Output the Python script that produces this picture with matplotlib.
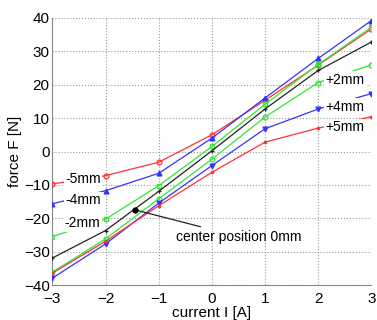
import matplotlib
matplotlib.use("Agg")
import matplotlib.pyplot as plt

plt.rcParams['font.family'] = ['Liberation Sans', 'DejaVu Sans']

current = [-3, -2, -1, 0, 1, 2, 3]
f_m5 = [-9.7, -7.2, -3.2, 5.0, 15.3, 25.8, 36.6]
f_m4 = [-15.6, -11.7, -6.5, 4.0, 16.0, 27.8, 39.1]
f_m2 = [-25.4, -20.2, -10.2, 1.5, 14.1, 26.0, 37.1]
f_0 = [-31.8, -23.6, -11.9, 0.2, 12.7, 24.2, 32.7]
f_p2 = [-36.0, -26.1, -14.1, -2.3, 10.3, 20.6, 25.9]
f_p4 = [-37.8, -27.6, -15.4, -4.2, 6.8, 12.7, 17.3]
f_p5 = [-36.3, -26.8, -16.2, -6.2, 2.8, 7.0, 10.4]

xticks = [-3, -2, -1, 0, 1, 2, 3]
yticks = [-40, -30, -20, -10, 0, 10, 20, 30, 40]

RED = '#ff3333'
BLUE = '#3333ff'
GREEN = '#33e633'
BLACK = '#222222'

fig = plt.figure(figsize=(3.77, 3.2), dpi=100)
ax = fig.add_axes([0.139, 0.108, 0.846, 0.837])

series = [
    (f_m5, RED, 'o'), (f_m4, BLUE, '^'), (f_m2, GREEN, 's'),
    (f_0, BLACK, '+'), (f_p2, GREEN, 'o'), (f_p4, BLUE, 'v'), (f_p5, RED, '.'),
]
for ys, c, m in series:
    ax.plot(current, ys, color=c, lw=0.9, marker=m, ms=3.5, mfc='none' if m in 'os' else c,
            mec=c, mew=0.9, zorder=3)

bbox = dict(boxstyle='square,pad=0.1', fc='white', ec='none')
fs = 10
tfs = 11
for txt, x, y in [('-5mm', -2.43, -8.1), ('-4mm', -2.43, -14.6), ('-2mm', -2.43, -21.4),
                  ('+2mm', 2.51, 21.4), ('+4mm', 2.51, 13.4), ('+5mm', 2.51, 7.2)]:
    ax.text(x, y, txt, ha='center', va='center', fontsize=fs, bbox=bbox, zorder=5)

ax.annotate('center position 0mm', xy=(-1.45, -17.4), xytext=(-0.68, -25.4),
            ha='left', va='center', fontsize=fs,
            arrowprops=dict(arrowstyle='-', color=BLACK, lw=0.9, shrinkA=0, shrinkB=0),
            zorder=6)
ax.plot([-1.45], [-17.4], 'o', color='black', ms=3.5, zorder=6)

ax.set_xlim(-3, 3)
ax.set_ylim(-40, 40)
ax.set_xticks(xticks)
ax.set_yticks(yticks)
ax.grid(True, linestyle=':', color='#999999', lw=0.8)
for s in ['top', 'right']:
    ax.spines[s].set_visible(False)
for s in ['left', 'bottom']:
    ax.spines[s].set_color('#888888')
ax.tick_params(axis='y', length=0, labelsize=tfs, pad=2)
ax.tick_params(axis='x', length=0, labelsize=tfs, pad=4.5)
ax.set_xlabel('current I [A]', fontsize=tfs, labelpad=0)
ax.set_ylabel('force F [N]', fontsize=tfs, labelpad=1)

fig.savefig('out.png', dpi=100)
